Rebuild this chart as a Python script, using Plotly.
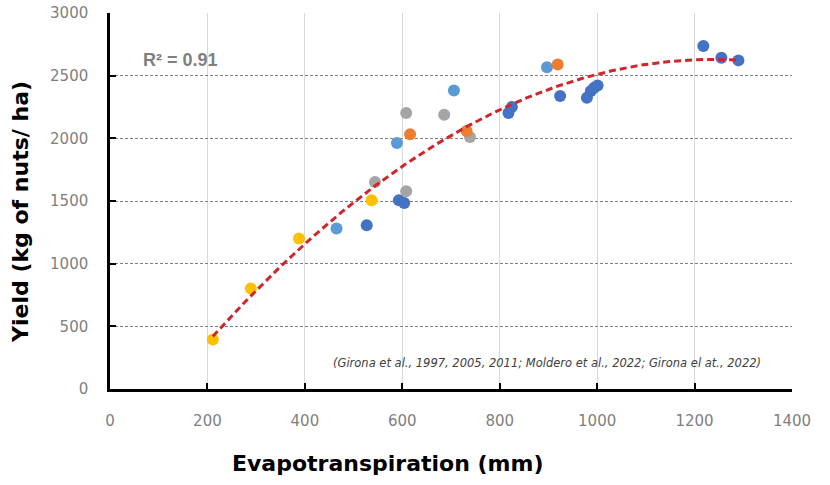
import numpy as np
import plotly.graph_objects as go

# Data (ET in mm, yield in kg of nuts/ha)
yellow_x = [211, 289, 388, 537]
yellow_y = [395, 802, 1201, 1506]

lightblue_x = [465, 589, 706, 897]
lightblue_y = [1280, 1963, 2382, 2568]

darkblue_x = [527, 593, 604, 818, 825, 924, 979, 987, 994, 1001, 1218, 1255, 1290]
darkblue_y = [1307, 1506, 1484, 2202, 2250, 2337, 2324, 2377, 2403, 2422, 2736, 2643, 2622]

gray_x = [544, 608, 608, 686, 739]
gray_y = [1652, 1578, 2202, 2189, 2010]

orange_x = [616, 732, 919]
orange_y = [2032, 2058, 2590]

x_ticks = [0, 200, 400, 600, 800, 1000, 1200, 1400]
y_ticks = [0, 500, 1000, 1500, 2000, 2500, 3000]

x_title = "Evapotranspiration (mm)"
y_title = "Yield (kg of nuts/ ha)"
r2_label = "R² = 0.91"
citation = "(Girona et al., 1997, 2005, 2011; Moldero et al., 2022; Girona el at., 2022)"

series = [
    (yellow_x, yellow_y, "#FFC000"),
    (lightblue_x, lightblue_y, "#5B9BD5"),
    (darkblue_x, darkblue_y, "#4472C4"),
    (gray_x, gray_y, "#A5A5A5"),
    (orange_x, orange_y, "#ED7D31"),
]

fig = go.Figure()
for xs, ys, c in series:
    fig.add_trace(go.Scatter(x=xs, y=ys, mode="markers",
                             marker=dict(color=c, size=12, line=dict(width=0)),
                             showlegend=False, hoverinfo="x+y"))

# 2nd-order polynomial trendline fitted to all points
all_x = np.array(yellow_x + lightblue_x + darkblue_x + gray_x + orange_x, dtype=float)
all_y = np.array(yellow_y + lightblue_y + darkblue_y + gray_y + orange_y, dtype=float)
coef = np.polyfit(all_x, all_y, 2)
tx = np.linspace(all_x.min(), all_x.max(), 200)
ty = np.polyval(coef, tx)
fig.add_trace(go.Scatter(x=tx, y=ty, mode="lines",
                         line=dict(color="#D0262B", width=3, dash="7px,4px"),
                         showlegend=False, hoverinfo="skip"))

fig.add_annotation(x=0.045, y=0.875, xref="paper", yref="paper", text=r2_label,
                   showarrow=False, xanchor="left", yanchor="middle",
                   font=dict(family="Liberation Sans", size=18, color="#7F7F7F", weight="bold"))
fig.add_annotation(x=0.958, y=0.07, xref="paper", yref="paper", text="<i>" + citation + "</i>",
                   showarrow=False, xanchor="right", yanchor="middle",
                   font=dict(family="DejaVu Sans", size=11.5, color="#404040"))
# axis titles
fig.add_annotation(x=0.4076, y=-0.197, xref="paper", yref="paper", text="<b>" + x_title + "</b>",
                   showarrow=False, xanchor="center", yanchor="middle",
                   font=dict(family="DejaVu Sans", size=22, color="black"))
fig.add_annotation(x=-0.131, y=0.47, xref="paper", yref="paper", text="<b>" + y_title + "</b>",
                   showarrow=False, xanchor="center", yanchor="middle", textangle=-90,
                   font=dict(family="DejaVu Sans", size=22, color="black"))

fig.update_layout(
    width=830, height=485,
    margin=dict(l=110, r=38, t=13, b=96, autoexpand=False),
    paper_bgcolor="white", plot_bgcolor="white",
    xaxis=dict(range=[0, 1400], tickvals=x_ticks, showgrid=True, gridcolor="#D9D9D9", gridwidth=1,
               showline=True, linecolor="black", linewidth=2.5, zeroline=False,
               ticks="inside", ticklen=6, tickwidth=2, tickcolor="black",
               ticklabelstandoff=16, automargin=False,
               tickfont=dict(family="DejaVu Sans", size=15, color="#7F7F7F")),
    yaxis=dict(range=[0, 3000], tickvals=y_ticks, showgrid=True, gridcolor="#808080", gridwidth=1,
               griddash="3px,2px",
               showline=True, linecolor="black", linewidth=2.5, zeroline=False,
               ticks="inside", ticklen=6, tickwidth=2, tickcolor="black",
               ticklabelstandoff=16, automargin=False,
               tickfont=dict(family="DejaVu Sans", size=15, color="#7F7F7F")),
)

fig.write_html("out.html")
